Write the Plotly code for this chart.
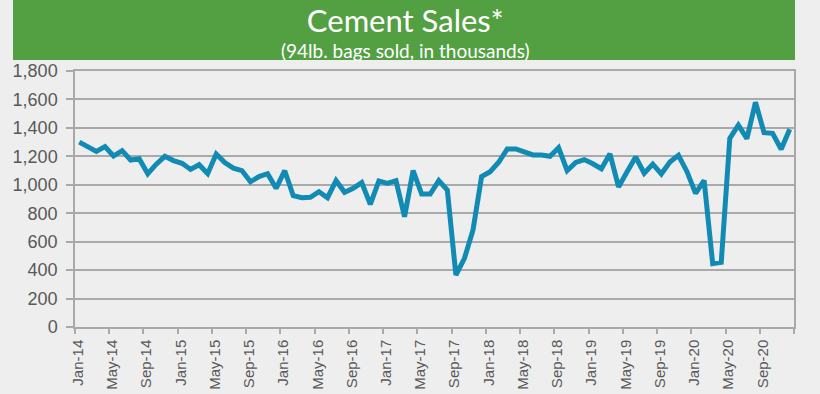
import plotly.graph_objects as go

# ---- data ----
month_names = ["Jan", "Feb", "Mar", "Apr", "May", "Jun",
               "Jul", "Aug", "Sep", "Oct", "Nov", "Dec"]
years = ["14", "15", "16", "17", "18", "19", "20"]
categories = [f"{m}-{y}" for y in years for m in month_names]  # Jan-14 .. Dec-20

sales = [
    1300, 1265, 1235, 1268, 1202, 1240, 1174, 1183, 1078, 1145, 1200, 1170,   # 2014
    1151, 1108, 1141, 1078, 1216, 1156, 1117, 1100, 1021, 1058, 1078, 975,    # 2015
    1099, 923, 909, 912, 951, 909, 1029, 947, 975, 1015, 862, 1027,           # 2016
    1010, 1029, 775, 1100, 935, 935, 1029, 962, 365, 483, 682, 1057,          # 2017
    1092, 1158, 1252, 1252, 1233, 1210, 1210, 1200, 1260, 1100, 1157, 1177,   # 2018
    1148, 1113, 1218, 985, 1092, 1195, 1081, 1145, 1076, 1160, 1207, 1092,    # 2019
    940, 1030, 445, 455, 1327, 1420, 1325, 1580, 1366, 1362, 1250, 1390,      # 2020
]

y_tick_values = [0, 200, 400, 600, 800, 1000, 1200, 1400, 1600, 1800]
label_step = 4

title_text = "Cement Sales*"
subtitle_text = "(94lb. bags sold, in thousands)"

# ---- geometry helpers ----
W, H = 820, 394
L, R, T, B = 75, 26, 71, 67
PW, PH = W - L - R, H - T - B


def px_x(p):
    return (p - L) / PW


def px_y(p):
    return (H - B - p) / PH


x_idx = list(range(len(categories)))
tickvals = [i - 0.5 for i in range(0, len(categories) + 1, label_step)]
ticktext = [categories[i] if i < len(categories) else ""
            for i in range(0, len(categories) + 1, label_step)]

GRID = "#A9A9A9"
LINE = "#128BB4"
TXT = "#595959"

fig = go.Figure()
fig.add_trace(go.Scatter(
    x=x_idx, y=sales, mode="lines",
    line=dict(color=LINE, width=5),
    hoverinfo="skip", showlegend=False,
    text=categories,
))

fig.update_layout(
    width=W, height=H,
    margin=dict(l=L, r=R, t=T, b=B, pad=0, autoexpand=False),
    paper_bgcolor="#EEEEEE",
    plot_bgcolor="#EEEEEE",
    font=dict(family="Liberation Sans, Arial, sans-serif", color=TXT),
    xaxis=dict(
        range=[-0.5, len(categories) - 0.5], automargin=False,
        tickmode="array", tickvals=tickvals, ticktext=ticktext,
        tickangle=-90, tickfont=dict(size=15, color=TXT),
        ticklabelshift=3,
        showgrid=False, zeroline=False,
        showline=True, linecolor=GRID, linewidth=1.5, mirror=True,
        ticks="outside", ticklen=5, tickcolor=GRID, tickwidth=1.5,
    ),
    yaxis=dict(
        range=[0, 1800], tickmode="array", tickvals=y_tick_values, automargin=False,
        tickformat=",", tickfont=dict(size=18, color=TXT),
        ticklabelstandoff=5,
        showgrid=True, gridcolor=GRID, gridwidth=1.5, zeroline=False,
        showline=True, linecolor=GRID, linewidth=1.5, mirror=True,
        ticks="outside", ticklen=7, tickcolor=GRID, tickwidth=1.5,
    ),
    shapes=[dict(
        type="rect", xref="paper", yref="paper",
        x0=px_x(13), x1=px_x(795), y0=px_y(60), y1=px_y(-2),
        fillcolor="#53A043", line=dict(width=0), layer="below",
    )],
    annotations=[
        dict(text=(f"<span style='font-size:31px'>{title_text}</span>"
                   f"<br><span style='font-size:19px'>{subtitle_text}</span>"),
             xref="paper", yref="paper",
             x=px_x(405), y=px_y(0), xanchor="center", yanchor="top",
             showarrow=False, borderpad=0, align="center",
             font=dict(family="Lato, Liberation Sans, sans-serif", size=20, color="white")),
    ],
)

fig.write_html(
    "out.html",
    config={"displayModeBar": False},
    post_script="document.body.style.margin='0';document.body.style.background='#EEEEEE';",
)
